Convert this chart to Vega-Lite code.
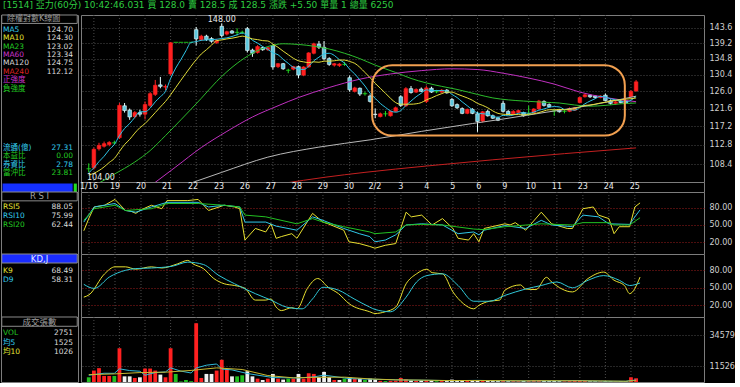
{
"$schema": "https://vega.github.io/schema/vega-lite/v6.json",
"background": "#000000",
"padding": 0,
"title": {"text": "[1514] 亞力(60分)   10:42:46.031 買 128.0 賣 128.5 成 128.5 漲跌 +5.50 單量 1 總量 6250", "anchor": "start", "frame": "group", "color": "#2ecc40", "fontSize": 9, "fontWeight": "normal", "font": "DejaVu Sans, Noto Sans CJK TC", "offset": 4.5, "dx": 2},
"spacing": 0,
"resolve": {"scale": {"color": "independent", "fill": "independent", "stroke": "independent"}},
"config": {
  "view": {"stroke": "#7c7c7c", "strokeWidth": 1, "fill": "#000000"},
  "concat": {"spacing": 0},
  "axis": {"labelFont": "DejaVu Sans", "labelFontSize": 8, "labelColor": "#d8d8d8", "ticks": false, "domain": false, "gridDash": [1, 2], "gridColor": "#555555", "gridOpacity": 1},
  "text": {"font": "DejaVu Sans, Noto Sans CJK TC", "fontSize": 8}
},
"datasets": {
  "days": [{"i":0,"d":"1/16"},{"i":5,"d":"19"},{"i":10,"d":"20"},{"i":15,"d":"21"},{"i":20,"d":"22"},{"i":25,"d":"23"},{"i":30,"d":"26"},{"i":35,"d":"27"},{"i":40,"d":"28"},{"i":45,"d":"29"},{"i":50,"d":"30"},{"i":55,"d":"2/2"},{"i":60,"d":"3"},{"i":65,"d":"4"},{"i":70,"d":"5"},{"i":75,"d":"6"},{"i":80,"d":"9"},{"i":85,"d":"10"},{"i":90,"d":"11"},{"i":95,"d":"23"},{"i":100,"d":"24"},{"i":105,"d":"25"}],
  "candles": [
    {"i":-1,"o":107.4,"h":108.6,"l":106.6,"c":107.4,"v":3500,"vd":"f","MA5":106.5,"MA10":106.0},
    {"i":0,"o":107.6,"h":112.2,"l":107.2,"c":111.8,"v":8500,"vd":"u","MA5":107.6,"MA10":106.4},
    {"i":1,"o":111.9,"h":113.3,"l":111.5,"c":112.7,"v":10300,"vd":"u","MA5":109.0,"MA10":107.0},
    {"i":2,"o":112.5,"h":113.6,"l":112.2,"c":113.1,"v":4500,"vd":"u","MA5":110.2,"MA10":107.8},
    {"i":3,"o":112.9,"h":113.7,"l":112.5,"c":113.4,"v":4500,"vd":"u","MA5":111.7,"MA10":108.8},
    {"i":4,"o":113.3,"h":113.8,"l":112.9,"c":113.3,"v":4500,"vd":"f","MA5":112.9,"MA10":109.7},
    {"i":5,"o":114.5,"h":123.0,"l":114.2,"c":122.4,"v":25100,"vd":"u","MA5":115.0,"MA10":111.3},
    {"i":6,"o":122.3,"h":123.0,"l":120.6,"c":121.1,"v":4200,"vd":"d","MA5":116.7,"MA10":112.9},
    {"i":7,"o":121.2,"h":121.6,"l":118.8,"c":119.5,"v":4200,"vd":"d","MA5":117.9,"MA10":114.1},
    {"i":8,"o":119.6,"h":121.0,"l":119.2,"c":120.6,"v":3000,"vd":"u","MA5":119.4,"MA10":115.6},
    {"i":9,"o":120.6,"h":121.3,"l":119.6,"c":120.2,"v":3500,"vd":"d","MA5":120.8,"MA10":116.9},
    {"i":10,"o":120.2,"h":123.4,"l":118.9,"c":122.6,"v":10000,"vd":"u","MA5":120.8,"MA10":117.9},
    {"i":11,"o":122.4,"h":125.8,"l":122.0,"c":125.4,"v":10000,"vd":"u","MA5":121.7,"MA10":119.2},
    {"i":12,"o":125.2,"h":129.0,"l":124.8,"c":127.6,"v":8500,"vd":"u","MA5":123.3,"MA10":120.6},
    {"i":13,"o":127.7,"h":129.8,"l":126.8,"c":127.3,"v":5500,"vd":"d","MA5":124.6,"MA10":122.0},
    {"i":14,"o":127.1,"h":127.8,"l":126.3,"c":127.3,"v":3500,"vd":"u","MA5":126.0,"MA10":123.4},
    {"i":15,"o":130.6,"h":139.4,"l":130.2,"c":139.3,"v":25100,"vd":"u","MA5":129.4,"MA10":125.1},
    {"i":16,"o":139.4,"h":139.4,"l":139.4,"c":139.4,"v":6000,"vd":"f","MA5":132.2,"MA10":127.0},
    {"i":17,"o":139.4,"h":139.4,"l":139.4,"c":139.4,"v":400,"vd":"f","MA5":134.5,"MA10":128.9},
    {"i":18,"o":139.4,"h":139.4,"l":139.4,"c":139.4,"v":1500,"vd":"f","MA5":137.0,"MA10":130.8},
    {"i":19,"o":139.4,"h":139.4,"l":139.4,"c":139.4,"v":600,"vd":"f","MA5":139.4,"MA10":132.7},
    {"i":20,"o":143.1,"h":143.9,"l":138.5,"c":140.4,"v":43700,"vd":"u","MA5":139.6,"MA10":134.5},
    {"i":21,"o":140.2,"h":141.6,"l":139.8,"c":141.2,"v":3000,"vd":"u","MA5":140.0,"MA10":136.1},
    {"i":22,"o":141.2,"h":141.6,"l":139.8,"c":140.2,"v":6000,"vd":"d","MA5":140.1,"MA10":137.3},
    {"i":23,"o":140.5,"h":140.9,"l":139.3,"c":139.7,"v":6000,"vd":"d","MA5":140.2,"MA10":138.6},
    {"i":24,"o":139.3,"h":140.4,"l":139.0,"c":139.9,"v":8500,"vd":"u","MA5":140.3,"MA10":139.9},
    {"i":25,"o":144.1,"h":145.0,"l":140.8,"c":141.4,"v":16500,"vd":"u","MA5":140.5,"MA10":140.1},
    {"i":26,"o":141.8,"h":142.8,"l":141.4,"c":142.5,"v":9500,"vd":"u","MA5":140.7,"MA10":140.4},
    {"i":27,"o":142.7,"h":143.0,"l":141.9,"c":142.1,"v":4200,"vd":"d","MA5":141.1,"MA10":140.6},
    {"i":28,"o":142.3,"h":143.5,"l":141.4,"c":142.3,"v":4200,"vd":"f","MA5":141.6,"MA10":140.9},
    {"i":29,"o":142.3,"h":142.8,"l":141.8,"c":142.3,"v":5000,"vd":"f","MA5":142.1,"MA10":141.2},
    {"i":30,"o":143.4,"h":143.9,"l":136.5,"c":137.1,"v":8000,"vd":"d","MA5":141.3,"MA10":140.9},
    {"i":31,"o":137.2,"h":137.6,"l":135.3,"c":136.3,"v":4200,"vd":"d","MA5":140.0,"MA10":140.4},
    {"i":32,"o":136.5,"h":138.6,"l":136.2,"c":138.2,"v":2500,"vd":"u","MA5":139.2,"MA10":140.2},
    {"i":33,"o":137.9,"h":138.2,"l":137.0,"c":137.3,"v":1500,"vd":"d","MA5":138.2,"MA10":139.9},
    {"i":34,"o":137.3,"h":138.1,"l":137.0,"c":137.9,"v":2500,"vd":"u","MA5":137.4,"MA10":139.8},
    {"i":35,"o":138.5,"h":138.8,"l":131.8,"c":132.5,"v":6000,"vd":"d","MA5":136.4,"MA10":138.9},
    {"i":36,"o":132.6,"h":133.6,"l":132.2,"c":133.4,"v":2500,"vd":"u","MA5":135.9,"MA10":138.0},
    {"i":37,"o":133.4,"h":133.6,"l":131.7,"c":132.0,"v":1800,"vd":"d","MA5":134.6,"MA10":136.9},
    {"i":38,"o":131.6,"h":132.0,"l":130.8,"c":131.6,"v":2500,"vd":"f","MA5":133.5,"MA10":135.9},
    {"i":39,"o":131.9,"h":132.8,"l":131.6,"c":132.6,"v":2500,"vd":"u","MA5":132.4,"MA10":134.9},
    {"i":40,"o":132.6,"h":132.9,"l":129.5,"c":130.3,"v":6000,"vd":"d","MA5":132.0,"MA10":134.2},
    {"i":41,"o":130.3,"h":132.7,"l":130.0,"c":132.5,"v":2500,"vd":"u","MA5":131.8,"MA10":133.9},
    {"i":42,"o":132.5,"h":136.6,"l":132.3,"c":136.4,"v":6500,"vd":"u","MA5":132.7,"MA10":133.7},
    {"i":43,"o":136.3,"h":139.3,"l":136.0,"c":139.0,"v":6000,"vd":"u","MA5":134.2,"MA10":133.9},
    {"i":44,"o":138.9,"h":139.8,"l":137.5,"c":138.0,"v":3500,"vd":"d","MA5":135.2,"MA10":133.8},
    {"i":45,"o":138.0,"h":139.8,"l":134.4,"c":134.8,"v":7500,"vd":"d","MA5":136.1,"MA10":134.1},
    {"i":46,"o":134.8,"h":135.2,"l":132.8,"c":133.2,"v":3500,"vd":"d","MA5":136.3,"MA10":134.1},
    {"i":47,"o":133.0,"h":133.6,"l":132.6,"c":133.4,"v":1500,"vd":"u","MA5":135.7,"MA10":134.2},
    {"i":48,"o":132.9,"h":133.6,"l":132.5,"c":133.3,"v":1500,"vd":"d","MA5":134.5,"MA10":134.4},
    {"i":49,"o":133.2,"h":133.9,"l":132.8,"c":133.2,"v":2500,"vd":"f","MA5":133.6,"MA10":134.4},
    {"i":50,"o":129.6,"h":130.2,"l":125.9,"c":126.4,"v":3500,"vd":"d","MA5":131.9,"MA10":134.0},
    {"i":51,"o":126.0,"h":127.2,"l":125.7,"c":126.9,"v":2500,"vd":"u","MA5":130.6,"MA10":133.5},
    {"i":52,"o":126.8,"h":127.0,"l":124.8,"c":125.3,"v":2500,"vd":"d","MA5":129.0,"MA10":132.4},
    {"i":53,"o":125.4,"h":125.9,"l":124.9,"c":125.4,"v":1500,"vd":"f","MA5":127.4,"MA10":131.0},
    {"i":54,"o":124.8,"h":125.2,"l":123.1,"c":123.4,"v":2500,"vd":"d","MA5":125.5,"MA10":129.6},
    {"i":55,"o":120.2,"h":121.6,"l":119.2,"c":120.1,"v":2000,"vd":"d","MA5":124.2,"MA10":128.1},
    {"i":56,"o":119.6,"h":120.6,"l":119.4,"c":120.3,"v":900,"vd":"u","MA5":122.9,"MA10":126.8},
    {"i":57,"o":120.3,"h":121.0,"l":119.6,"c":120.3,"v":700,"vd":"f","MA5":121.9,"MA10":125.5},
    {"i":58,"o":119.8,"h":121.1,"l":119.6,"c":120.9,"v":900,"vd":"u","MA5":121.0,"MA10":124.2},
    {"i":59,"o":120.9,"h":122.1,"l":120.7,"c":121.8,"v":1000,"vd":"u","MA5":120.7,"MA10":123.1},
    {"i":60,"o":124.6,"h":125.0,"l":122.0,"c":122.4,"v":3000,"vd":"u","MA5":121.1,"MA10":122.7},
    {"i":61,"o":122.3,"h":127.1,"l":122.0,"c":126.7,"v":2000,"vd":"u","MA5":122.4,"MA10":122.7},
    {"i":62,"o":126.7,"h":127.4,"l":125.4,"c":125.7,"v":1200,"vd":"d","MA5":123.5,"MA10":122.7},
    {"i":63,"o":125.8,"h":126.8,"l":125.6,"c":126.5,"v":800,"vd":"u","MA5":124.6,"MA10":122.8},
    {"i":64,"o":126.6,"h":127.0,"l":125.8,"c":126.0,"v":1200,"vd":"d","MA5":125.5,"MA10":123.1},
    {"i":65,"o":123.4,"h":127.5,"l":123.0,"c":126.9,"v":1500,"vd":"u","MA5":126.4,"MA10":123.8},
    {"i":66,"o":126.8,"h":127.2,"l":125.6,"c":125.8,"v":900,"vd":"d","MA5":126.2,"MA10":124.3},
    {"i":67,"o":125.9,"h":126.4,"l":125.5,"c":125.9,"v":600,"vd":"f","MA5":126.2,"MA10":124.9},
    {"i":68,"o":125.8,"h":126.6,"l":125.6,"c":126.3,"v":700,"vd":"u","MA5":126.2,"MA10":125.4},
    {"i":69,"o":126.3,"h":126.6,"l":125.4,"c":125.6,"v":700,"vd":"d","MA5":126.1,"MA10":125.8},
    {"i":70,"o":123.9,"h":124.3,"l":122.0,"c":122.3,"v":1800,"vd":"d","MA5":125.2,"MA10":125.8},
    {"i":71,"o":122.6,"h":122.9,"l":121.5,"c":121.8,"v":900,"vd":"d","MA5":124.4,"MA10":125.3},
    {"i":72,"o":121.6,"h":121.9,"l":120.2,"c":120.4,"v":900,"vd":"d","MA5":123.3,"MA10":124.8},
    {"i":73,"o":120.4,"h":121.6,"l":120.2,"c":121.4,"v":800,"vd":"u","MA5":122.3,"MA10":124.3},
    {"i":74,"o":121.4,"h":121.7,"l":120.2,"c":120.4,"v":1200,"vd":"d","MA5":121.3,"MA10":123.7},
    {"i":75,"o":120.3,"h":120.8,"l":115.9,"c":118.4,"v":1500,"vd":"d","MA5":120.5,"MA10":122.9},
    {"i":76,"o":118.5,"h":121.0,"l":118.2,"c":120.8,"v":1000,"vd":"u","MA5":120.3,"MA10":122.4},
    {"i":77,"o":120.9,"h":121.3,"l":119.6,"c":119.8,"v":800,"vd":"d","MA5":120.2,"MA10":121.8},
    {"i":78,"o":119.8,"h":120.1,"l":119.0,"c":119.2,"v":700,"vd":"d","MA5":119.7,"MA10":121.0},
    {"i":79,"o":119.3,"h":119.6,"l":118.5,"c":118.7,"v":700,"vd":"d","MA5":119.4,"MA10":120.4},
    {"i":80,"o":122.9,"h":123.6,"l":120.6,"c":120.9,"v":1200,"vd":"u","MA5":119.9,"MA10":120.2},
    {"i":81,"o":120.9,"h":121.2,"l":120.0,"c":120.2,"v":600,"vd":"d","MA5":119.8,"MA10":120.1},
    {"i":82,"o":120.3,"h":121.2,"l":120.1,"c":120.9,"v":700,"vd":"u","MA5":120.0,"MA10":120.1},
    {"i":83,"o":120.6,"h":121.3,"l":120.4,"c":121.1,"v":700,"vd":"u","MA5":120.4,"MA10":120.1},
    {"i":84,"o":120.6,"h":120.8,"l":119.6,"c":119.8,"v":800,"vd":"d","MA5":120.6,"MA10":120.0},
    {"i":85,"o":120.2,"h":122.3,"l":119.8,"c":120.2,"v":1000,"vd":"u","MA5":120.4,"MA10":120.2},
    {"i":86,"o":120.6,"h":121.7,"l":120.4,"c":121.5,"v":1500,"vd":"u","MA5":120.7,"MA10":120.3},
    {"i":87,"o":121.5,"h":123.8,"l":121.3,"c":123.5,"v":1500,"vd":"u","MA5":121.2,"MA10":120.6},
    {"i":88,"o":123.4,"h":123.7,"l":122.1,"c":122.4,"v":900,"vd":"d","MA5":121.5,"MA10":121.0},
    {"i":89,"o":122.6,"h":122.9,"l":121.9,"c":122.1,"v":700,"vd":"d","MA5":121.9,"MA10":121.3},
    {"i":90,"o":121.0,"h":121.3,"l":119.8,"c":121.0,"v":800,"vd":"d","MA5":122.1,"MA10":121.3},
    {"i":91,"o":121.2,"h":121.5,"l":120.6,"c":120.8,"v":600,"vd":"d","MA5":122.0,"MA10":121.4},
    {"i":92,"o":120.9,"h":121.2,"l":120.4,"c":120.9,"v":500,"vd":"u","MA5":121.4,"MA10":121.3},
    {"i":93,"o":120.9,"h":121.9,"l":120.7,"c":121.6,"v":700,"vd":"u","MA5":121.3,"MA10":121.4},
    {"i":94,"o":121.2,"h":122.0,"l":121.0,"c":121.8,"v":1500,"vd":"u","MA5":121.2,"MA10":121.6},
    {"i":95,"o":123.1,"h":124.6,"l":122.9,"c":124.4,"v":1300,"vd":"u","MA5":121.9,"MA10":122.0},
    {"i":96,"o":124.6,"h":125.4,"l":124.4,"c":125.1,"v":900,"vd":"u","MA5":122.8,"MA10":122.4},
    {"i":97,"o":125.0,"h":125.2,"l":124.3,"c":124.6,"v":500,"vd":"d","MA5":123.5,"MA10":122.5},
    {"i":98,"o":124.8,"h":125.0,"l":124.2,"c":124.4,"v":500,"vd":"d","MA5":124.1,"MA10":122.7},
    {"i":99,"o":124.4,"h":125.0,"l":124.2,"c":124.8,"v":600,"vd":"u","MA5":124.7,"MA10":123.0},
    {"i":100,"o":125.0,"h":125.4,"l":123.4,"c":123.6,"v":600,"vd":"d","MA5":124.5,"MA10":123.2},
    {"i":101,"o":123.6,"h":123.9,"l":122.6,"c":122.9,"v":500,"vd":"d","MA5":124.1,"MA10":123.5},
    {"i":102,"o":122.9,"h":123.6,"l":122.6,"c":123.3,"v":450,"vd":"u","MA5":123.8,"MA10":123.7},
    {"i":103,"o":123.5,"h":123.8,"l":122.9,"c":123.1,"v":450,"vd":"d","MA5":123.5,"MA10":123.8},
    {"i":104,"o":123.5,"h":123.7,"l":122.8,"c":123.0,"v":480,"vd":"d","MA5":123.2,"MA10":124.0},
    {"i":105,"o":124.6,"h":126.3,"l":124.5,"c":126.0,"v":3499,"vd":"u","MA5":123.7,"MA10":124.1},
    {"i":106,"o":126.1,"h":129.0,"l":125.9,"c":128.5,"v":2751,"vd":"u","MA5":124.7,"MA10":124.3}
  ],
  "mas": [
    {"s":"MA23","i":-1,"v":103.4},{"s":"MA23","i":1,"v":104.3},{"s":"MA23","i":4,"v":106.2},{"s":"MA23","i":8,"v":108.9},{"s":"MA23","i":11,"v":111.5},{"s":"MA23","i":14,"v":115.0},{"s":"MA23","i":17,"v":118.8},{"s":"MA23","i":21,"v":124.2},{"s":"MA23","i":24,"v":128.6},{"s":"MA23","i":28,"v":133.5},{"s":"MA23","i":31,"v":136.3},{"s":"MA23","i":34,"v":138.2},{"s":"MA23","i":37,"v":139.0},{"s":"MA23","i":40,"v":138.8},{"s":"MA23","i":43,"v":138.3},{"s":"MA23","i":46,"v":137.5},{"s":"MA23","i":49,"v":136.3},{"s":"MA23","i":52,"v":134.8},{"s":"MA23","i":55,"v":133.0},{"s":"MA23","i":59,"v":131.0},{"s":"MA23","i":62,"v":129.4},{"s":"MA23","i":65,"v":128.2},{"s":"MA23","i":68,"v":127.3},{"s":"MA23","i":71,"v":126.5},{"s":"MA23","i":75,"v":125.2},{"s":"MA23","i":78,"v":124.3},{"s":"MA23","i":81,"v":123.8},{"s":"MA23","i":84,"v":123.5},{"s":"MA23","i":88,"v":123.2},{"s":"MA23","i":91,"v":123.0},{"s":"MA23","i":94,"v":122.5},{"s":"MA23","i":97,"v":122.2},{"s":"MA23","i":100,"v":122.4},{"s":"MA23","i":103,"v":122.8},{"s":"MA23","i":106,"v":123.02},
    {"s":"MA60","i":11,"v":103.6},{"s":"MA60","i":16,"v":107.8},{"s":"MA60","i":21,"v":112.2},{"s":"MA60","i":26,"v":116.0},{"s":"MA60","i":31,"v":119.5},{"s":"MA60","i":36,"v":122.3},{"s":"MA60","i":40,"v":124.4},{"s":"MA60","i":46,"v":127.0},{"s":"MA60","i":52,"v":129.2},{"s":"MA60","i":58,"v":130.6},{"s":"MA60","i":64,"v":131.5},{"s":"MA60","i":70,"v":132.0},{"s":"MA60","i":75,"v":131.8},{"s":"MA60","i":80,"v":130.8},{"s":"MA60","i":85,"v":129.5},{"s":"MA60","i":90,"v":127.9},{"s":"MA60","i":95,"v":125.8},{"s":"MA60","i":100,"v":124.4},{"s":"MA60","i":106,"v":123.34},
    {"s":"MA120","i":18,"v":103.9},{"s":"MA120","i":25,"v":106.6},{"s":"MA120","i":34,"v":110.0},{"s":"MA120","i":44,"v":112.3},{"s":"MA120","i":54,"v":114.0},{"s":"MA120","i":64,"v":116.0},{"s":"MA120","i":74,"v":117.9},{"s":"MA120","i":80,"v":119.0},{"s":"MA120","i":88,"v":120.6},{"s":"MA120","i":96,"v":122.2},{"s":"MA120","i":101,"v":123.4},{"s":"MA120","i":106,"v":124.75},
    {"s":"MA240","i":37,"v":104.2},{"s":"MA240","i":45,"v":105.5},{"s":"MA240","i":53,"v":106.6},{"s":"MA240","i":65,"v":108.0},{"s":"MA240","i":78,"v":109.4},{"s":"MA240","i":92,"v":110.8},{"s":"MA240","i":106,"v":112.12}
  ],
  "rsi": [
    {"s":"RSI5","i":-1,"v":40},{"s":"RSI5","i":0,"v":62},{"s":"RSI5","i":1,"v":81},{"s":"RSI5","i":3,"v":84},{"s":"RSI5","i":5,"v":94},{"s":"RSI5","i":7,"v":75},{"s":"RSI5","i":8,"v":74},{"s":"RSI5","i":9,"v":70},{"s":"RSI5","i":10,"v":76},{"s":"RSI5","i":12,"v":84},{"s":"RSI5","i":14,"v":78},{"s":"RSI5","i":15,"v":92},{"s":"RSI5","i":19,"v":92},{"s":"RSI5","i":21,"v":94},{"s":"RSI5","i":23,"v":75},{"s":"RSI5","i":26,"v":84},{"s":"RSI5","i":28,"v":81},{"s":"RSI5","i":29,"v":78},{"s":"RSI5","i":30,"v":24},{"s":"RSI5","i":32,"v":44},{"s":"RSI5","i":34,"v":38},{"s":"RSI5","i":35,"v":52},{"s":"RSI5","i":36,"v":27},{"s":"RSI5","i":37,"v":30},{"s":"RSI5","i":39,"v":35},{"s":"RSI5","i":40,"v":27},{"s":"RSI5","i":43,"v":70},{"s":"RSI5","i":45,"v":55},{"s":"RSI5","i":46,"v":52},{"s":"RSI5","i":49,"v":41},{"s":"RSI5","i":50,"v":21},{"s":"RSI5","i":52,"v":18},{"s":"RSI5","i":54,"v":13},{"s":"RSI5","i":55,"v":10},{"s":"RSI5","i":57,"v":15},{"s":"RSI5","i":59,"v":18},{"s":"RSI5","i":61,"v":72},{"s":"RSI5","i":62,"v":64},{"s":"RSI5","i":64,"v":67},{"s":"RSI5","i":66,"v":50},{"s":"RSI5","i":68,"v":61},{"s":"RSI5","i":70,"v":44},{"s":"RSI5","i":71,"v":27},{"s":"RSI5","i":73,"v":24},{"s":"RSI5","i":74,"v":35},{"s":"RSI5","i":75,"v":21},{"s":"RSI5","i":76,"v":44},{"s":"RSI5","i":80,"v":52},{"s":"RSI5","i":81,"v":50},{"s":"RSI5","i":82,"v":54},{"s":"RSI5","i":84,"v":41},{"s":"RSI5","i":87,"v":72},{"s":"RSI5","i":89,"v":52},{"s":"RSI5","i":92,"v":44},{"s":"RSI5","i":93,"v":44},{"s":"RSI5","i":95,"v":78},{"s":"RSI5","i":97,"v":81},{"s":"RSI5","i":98,"v":67},{"s":"RSI5","i":100,"v":61},{"s":"RSI5","i":101,"v":35},{"s":"RSI5","i":102,"v":47},{"s":"RSI5","i":104,"v":47},{"s":"RSI5","i":105,"v":81},{"s":"RSI5","i":106,"v":88.05},
    {"s":"RSI10","i":-1,"v":55},{"s":"RSI10","i":1,"v":81},{"s":"RSI10","i":5,"v":87},{"s":"RSI10","i":7,"v":75},{"s":"RSI10","i":9,"v":72},{"s":"RSI10","i":12,"v":81},{"s":"RSI10","i":15,"v":89},{"s":"RSI10","i":21,"v":89},{"s":"RSI10","i":23,"v":81},{"s":"RSI10","i":26,"v":84},{"s":"RSI10","i":29,"v":81},{"s":"RSI10","i":30,"v":55},{"s":"RSI10","i":34,"v":55},{"s":"RSI10","i":36,"v":48},{"s":"RSI10","i":40,"v":41},{"s":"RSI10","i":43,"v":64},{"s":"RSI10","i":45,"v":58},{"s":"RSI10","i":49,"v":44},{"s":"RSI10","i":52,"v":35},{"s":"RSI10","i":54,"v":30},{"s":"RSI10","i":55,"v":21},{"s":"RSI10","i":57,"v":24},{"s":"RSI10","i":59,"v":33},{"s":"RSI10","i":61,"v":50},{"s":"RSI10","i":64,"v":52},{"s":"RSI10","i":68,"v":50},{"s":"RSI10","i":71,"v":35},{"s":"RSI10","i":74,"v":38},{"s":"RSI10","i":75,"v":33},{"s":"RSI10","i":76,"v":41},{"s":"RSI10","i":80,"v":49},{"s":"RSI10","i":84,"v":44},{"s":"RSI10","i":87,"v":58},{"s":"RSI10","i":89,"v":50},{"s":"RSI10","i":93,"v":47},{"s":"RSI10","i":95,"v":67},{"s":"RSI10","i":98,"v":64},{"s":"RSI10","i":100,"v":52},{"s":"RSI10","i":104,"v":51},{"s":"RSI10","i":105,"v":64},{"s":"RSI10","i":106,"v":75.99},
    {"s":"RSI20","i":-1,"v":58},{"s":"RSI20","i":1,"v":78},{"s":"RSI20","i":5,"v":84},{"s":"RSI20","i":7,"v":75},{"s":"RSI20","i":12,"v":78},{"s":"RSI20","i":15,"v":87},{"s":"RSI20","i":21,"v":87},{"s":"RSI20","i":26,"v":84},{"s":"RSI20","i":29,"v":81},{"s":"RSI20","i":30,"v":67},{"s":"RSI20","i":34,"v":64},{"s":"RSI20","i":40,"v":52},{"s":"RSI20","i":43,"v":61},{"s":"RSI20","i":45,"v":55},{"s":"RSI20","i":49,"v":47},{"s":"RSI20","i":54,"v":38},{"s":"RSI20","i":55,"v":35},{"s":"RSI20","i":59,"v":38},{"s":"RSI20","i":61,"v":50},{"s":"RSI20","i":64,"v":51},{"s":"RSI20","i":68,"v":50},{"s":"RSI20","i":74,"v":43},{"s":"RSI20","i":76,"v":42},{"s":"RSI20","i":80,"v":47},{"s":"RSI20","i":87,"v":52},{"s":"RSI20","i":93,"v":50},{"s":"RSI20","i":95,"v":54},{"s":"RSI20","i":100,"v":54},{"s":"RSI20","i":101,"v":50},{"s":"RSI20","i":104,"v":50},{"s":"RSI20","i":106,"v":62.44}
  ],
  "kd": [
    {"s":"K9","i":-1,"v":34},{"s":"K9","i":0,"v":38},{"s":"K9","i":3,"v":74},{"s":"K9","i":5,"v":86},{"s":"K9","i":7,"v":86},{"s":"K9","i":9,"v":82},{"s":"K9","i":12,"v":86},{"s":"K9","i":14,"v":84},{"s":"K9","i":17,"v":91},{"s":"K9","i":19,"v":97},{"s":"K9","i":20,"v":91},{"s":"K9","i":22,"v":83},{"s":"K9","i":24,"v":66},{"s":"K9","i":26,"v":57},{"s":"K9","i":28,"v":54},{"s":"K9","i":30,"v":49},{"s":"K9","i":32,"v":29},{"s":"K9","i":34,"v":29},{"s":"K9","i":35,"v":31},{"s":"K9","i":36,"v":17},{"s":"K9","i":37,"v":11},{"s":"K9","i":39,"v":16},{"s":"K9","i":40,"v":14},{"s":"K9","i":42,"v":49},{"s":"K9","i":44,"v":66},{"s":"K9","i":46,"v":51},{"s":"K9","i":48,"v":40},{"s":"K9","i":50,"v":23},{"s":"K9","i":54,"v":9},{"s":"K9","i":55,"v":6},{"s":"K9","i":57,"v":9},{"s":"K9","i":59,"v":17},{"s":"K9","i":61,"v":57},{"s":"K9","i":63,"v":74},{"s":"K9","i":65,"v":82},{"s":"K9","i":66,"v":76},{"s":"K9","i":68,"v":74},{"s":"K9","i":70,"v":43},{"s":"K9","i":72,"v":23},{"s":"K9","i":74,"v":14},{"s":"K9","i":75,"v":20},{"s":"K9","i":77,"v":27},{"s":"K9","i":79,"v":29},{"s":"K9","i":80,"v":46},{"s":"K9","i":83,"v":55},{"s":"K9","i":84,"v":48},{"s":"K9","i":86,"v":47},{"s":"K9","i":88,"v":68},{"s":"K9","i":89,"v":60},{"s":"K9","i":93,"v":43},{"s":"K9","i":96,"v":66},{"s":"K9","i":99,"v":77},{"s":"K9","i":101,"v":63},{"s":"K9","i":103,"v":54},{"s":"K9","i":104,"v":40},{"s":"K9","i":106,"v":68.49},
    {"s":"D9","i":-1,"v":56},{"s":"D9","i":1,"v":49},{"s":"D9","i":4,"v":69},{"s":"D9","i":7,"v":80},{"s":"D9","i":9,"v":83},{"s":"D9","i":12,"v":84},{"s":"D9","i":16,"v":87},{"s":"D9","i":19,"v":94},{"s":"D9","i":22,"v":90},{"s":"D9","i":25,"v":71},{"s":"D9","i":28,"v":57},{"s":"D9","i":32,"v":40},{"s":"D9","i":35,"v":29},{"s":"D9","i":38,"v":17},{"s":"D9","i":41,"v":14},{"s":"D9","i":43,"v":31},{"s":"D9","i":45,"v":51},{"s":"D9","i":48,"v":46},{"s":"D9","i":51,"v":31},{"s":"D9","i":54,"v":17},{"s":"D9","i":55,"v":13},{"s":"D9","i":58,"v":9},{"s":"D9","i":61,"v":34},{"s":"D9","i":63,"v":60},{"s":"D9","i":65,"v":71},{"s":"D9","i":68,"v":74},{"s":"D9","i":71,"v":54},{"s":"D9","i":74,"v":27},{"s":"D9","i":77,"v":27},{"s":"D9","i":80,"v":37},{"s":"D9","i":84,"v":48},{"s":"D9","i":87,"v":54},{"s":"D9","i":90,"v":60},{"s":"D9","i":93,"v":50},{"s":"D9","i":96,"v":63},{"s":"D9","i":99,"v":71},{"s":"D9","i":102,"v":63},{"s":"D9","i":104,"v":54},{"s":"D9","i":106,"v":58.31}
  ],
  "vavg": [
    {"s":"V5","i":-1,"v":5000},{"s":"V5","i":2,"v":6500},{"s":"V5","i":4,"v":6460},{"s":"V5","i":5,"v":9780},{"s":"V5","i":7,"v":8500},{"s":"V5","i":9,"v":8000},{"s":"V5","i":10,"v":5000},{"s":"V5","i":12,"v":7000},{"s":"V5","i":14,"v":7500},{"s":"V5","i":15,"v":10500},{"s":"V5","i":17,"v":8100},{"s":"V5","i":19,"v":6700},{"s":"V5","i":20,"v":10400},{"s":"V5","i":22,"v":12500},{"s":"V5","i":24,"v":13400},{"s":"V5","i":25,"v":9600},{"s":"V5","i":27,"v":9000},{"s":"V5","i":30,"v":6300},{"s":"V5","i":35,"v":3300},{"s":"V5","i":40,"v":3000},{"s":"V5","i":43,"v":3800},{"s":"V5","i":45,"v":5100},{"s":"V5","i":50,"v":2500},{"s":"V5","i":55,"v":2000},{"s":"V5","i":60,"v":1500},{"s":"V5","i":65,"v":1300},{"s":"V5","i":70,"v":1000},{"s":"V5","i":75,"v":1200},{"s":"V5","i":80,"v":900},{"s":"V5","i":85,"v":800},{"s":"V5","i":90,"v":900},{"s":"V5","i":95,"v":1000},{"s":"V5","i":100,"v":600},{"s":"V5","i":104,"v":500},{"s":"V5","i":105,"v":1080},{"s":"V5","i":106,"v":1525},
    {"s":"V10","i":-1,"v":5500},{"s":"V10","i":4,"v":6000},{"s":"V10","i":9,"v":7000},{"s":"V10","i":14,"v":7300},{"s":"V10","i":19,"v":8600},{"s":"V10","i":24,"v":10500},{"s":"V10","i":29,"v":9300},{"s":"V10","i":34,"v":4800},{"s":"V10","i":39,"v":3100},{"s":"V10","i":44,"v":3500},{"s":"V10","i":49,"v":3600},{"s":"V10","i":54,"v":2300},{"s":"V10","i":59,"v":1600},{"s":"V10","i":64,"v":1400},{"s":"V10","i":69,"v":1100},{"s":"V10","i":74,"v":1100},{"s":"V10","i":79,"v":1000},{"s":"V10","i":84,"v":850},{"s":"V10","i":89,"v":950},{"s":"V10","i":94,"v":900},{"s":"V10","i":99,"v":800},{"s":"V10","i":104,"v":560},{"s":"V10","i":105,"v":880},{"s":"V10","i":106,"v":1026}
  ],
  "annot": [{"i0": 54.4, "i1": 103.8, "pt": 133.0, "pb": 115.0}],
  "hl": [{"i": 25, "p": 146.0, "t": "148.00"}],
  "lo": [{"i": -1.35, "p": 105.4, "t": "104.00"}],
  "legMain": [
    {"k":"h","lab":"除權對數K線圖","val":""},
    {"k":"MA5","lab":"MA5","val":"124.70"},
    {"k":"MA10","lab":"MA10","val":"124.30"},
    {"k":"MA23","lab":"MA23","val":"123.02"},
    {"k":"MA60","lab":"MA60","val":"123.34"},
    {"k":"MA120","lab":"MA120","val":"124.75"},
    {"k":"MA240","lab":"MA240","val":"112.12"},
    {"k":"正強度","lab":"正強度","val":""},
    {"k":"負強度","lab":"負強度","val":""},
    {"k":"流通(億)","lab":"流通(億)","val":"27.31"},
    {"k":"本益比","lab":"本益比","val":"0.00"},
    {"k":"券資比","lab":"券資比","val":"2.78"},
    {"k":"當沖比","lab":"當沖比","val":"23.81"},
    {"k":"bar","lab":"","val":""}
  ],
  "legRsi": [
    {"k":"h","lab":"R S I","val":""},
    {"k":"RSI5","lab":"RSI5","val":"88.05"},
    {"k":"RSI10","lab":"RSI10","val":"75.99"},
    {"k":"RSI20","lab":"RSI20","val":"62.44"}
  ],
  "legKd": [
    {"k":"h","lab":"KD,J","val":""},
    {"k":"K9","lab":"K9","val":"68.49"},
    {"k":"D9","lab":"D9","val":"58.31"}
  ],
  "legVol": [
    {"k":"h","lab":"成交張數","val":""},
    {"k":"V","lab":"VOL","val":"2751"},
    {"k":"V5","lab":"均5","val":"1525"},
    {"k":"V10","lab":"均10","val":"1026"}
  ]
},
"hconcat": [
  {
    "spacing": 0,
    "bounds": "flush",
    "resolve": {"scale": {"color": "independent", "fill": "independent", "stroke": "independent"}},
    "vconcat": [
      {
        "width": 77, "height": 177,
        "data": {"name": "legMain"},
        "resolve": {"scale": {"color": "independent", "fill": "independent"}},
        "layer": [
          {
            "transform": [{"filter": "datum.k == 'bar'"}],
            "mark": {"type": "bar", "color": "#1430ff"},
            "encoding": {
              "x": {"datum": 0.02, "type": "quantitative", "scale": {"domain": [0, 1], "nice": false}, "axis": null},
              "x2": {"datum": 0.93},
              "y": {"field": "k", "type": "nominal", "scale": {"type": "band", "domain": ["h","MA5","MA10","MA23","MA60","MA120","MA240","正強度","負強度","g1","g2","g3","g4","g5","g6","流通(億)","本益比","券資比","當沖比","g7","bar"], "paddingInner": 0, "paddingOuter": 0}, "axis": null}
            }
          },
          {
            "transform": [{"filter": "datum.k == 'bar'"}],
            "mark": {"type": "bar", "color": "#22dd22"},
            "encoding": {"x": {"datum": 0.945, "type": "quantitative"}, "x2": {"datum": 0.985}, "y": {"field": "k", "type": "nominal"}}
          },
          {
            "transform": [{"filter": "datum.k == 'h'"}],
            "mark": {"type": "bar", "fill": "#000000", "stroke": "#8a8a8a", "strokeWidth": 1},
            "encoding": {"x": {"datum": 0.01, "type": "quantitative"}, "x2": {"datum": 0.99}, "y": {"field": "k", "type": "nominal"}}
          },
          {
            "transform": [{"filter": "datum.k == 'h'"}],
            "mark": {"type": "text", "align": "left", "baseline": "middle", "dx": 6, "color": "#9a9a9a", "fontSize": 8},
            "encoding": {"x": {"datum": 0, "type": "quantitative"}, "y": {"field": "k", "type": "nominal"}, "text": {"field": "lab"}}
          },
          {
            "transform": [{"filter": "datum.k != 'h' && datum.k != 'bar'"}],
            "mark": {"type": "text", "align": "left", "baseline": "middle", "dx": 2, "dy": 2, "fontSize": 7.5},
            "encoding": {
              "x": {"datum": 0, "type": "quantitative"},
              "y": {"field": "k", "type": "nominal"},
              "text": {"field": "lab"},
              "color": {"field": "k", "type": "nominal", "legend": null, "scale": {"domain": ["MA5","MA10","MA23","MA60","MA120","MA240","正強度","負強度","流通(億)","本益比","券資比","當沖比"], "range": ["#33ccee","#e6e633","#22cc22","#cc33cc","#d8d8d8","#dd2222","#cc33cc","#22cc22","#33ccee","#22cc22","#33ccee","#22cc22"]}}
            }
          },
          {
            "transform": [{"filter": "datum.k != 'h' && datum.k != 'bar'"}],
            "mark": {"type": "text", "align": "right", "baseline": "middle", "dx": -5, "dy": 2, "fontSize": 7.5},
            "encoding": {
              "x": {"datum": 1, "type": "quantitative"},
              "y": {"field": "k", "type": "nominal"},
              "text": {"field": "val"},
              "fill": {"field": "k", "type": "nominal", "legend": null, "scale": {"domain": ["MA5","MA10","MA23","MA60","MA120","MA240","正強度","負強度","流通(億)","本益比","券資比","當沖比"], "range": ["#dcdcdc","#dcdcdc","#dcdcdc","#dcdcdc","#dcdcdc","#dcdcdc","#dcdcdc","#dcdcdc","#33ccee","#22cc22","#33ccee","#22cc22"]}}
            }
          }
        ]
      },
      {
        "width": 77, "height": 62,
        "data": {"name": "legRsi"},
        "layer": [
          {
            "transform": [{"filter": "datum.k == 'h'"}],
            "mark": {"type": "bar", "fill": "#000000", "stroke": "#8a8a8a", "strokeWidth": 1},
            "encoding": {
              "x": {"datum": 0.01, "type": "quantitative", "scale": {"domain": [0, 1], "nice": false}, "axis": null},
              "x2": {"datum": 0.99},
              "y": {"field": "k", "type": "nominal", "scale": {"type": "band", "domain": ["h","RSI5","RSI10","RSI20","g1","g2","g3"], "paddingInner": 0, "paddingOuter": 0}, "axis": null}
            }
          },
          {
            "transform": [{"filter": "datum.k == 'h'"}],
            "mark": {"type": "text", "align": "center", "baseline": "middle", "color": "#a0a0a0", "fontSize": 8.5},
            "encoding": {"x": {"datum": 0.5, "type": "quantitative"}, "y": {"field": "k", "type": "nominal"}, "text": {"field": "lab"}}
          },
          {
            "transform": [{"filter": "datum.k != 'h'"}],
            "mark": {"type": "text", "align": "left", "baseline": "middle", "dx": 2, "dy": 2, "fontSize": 7.5},
            "encoding": {
              "x": {"datum": 0, "type": "quantitative"},
              "y": {"field": "k", "type": "nominal"},
              "text": {"field": "lab"},
              "color": {"field": "k", "type": "nominal", "legend": null, "scale": {"domain": ["RSI5","RSI10","RSI20"], "range": ["#e6e633","#33ccee","#22cc22"]}}
            }
          },
          {
            "transform": [{"filter": "datum.k != 'h'"}],
            "mark": {"type": "text", "align": "right", "baseline": "middle", "dx": -5, "dy": 2, "fontSize": 7.5, "color": "#dcdcdc"},
            "encoding": {"x": {"datum": 1, "type": "quantitative"}, "y": {"field": "k", "type": "nominal"}, "text": {"field": "val"}}
          }
        ]
      },
      {
        "width": 77, "height": 63,
        "data": {"name": "legKd"},
        "layer": [
          {
            "transform": [{"filter": "datum.k == 'h'"}],
            "mark": {"type": "bar", "fill": "#1a2cff", "stroke": "#8a8a8a", "strokeWidth": 1},
            "encoding": {
              "x": {"datum": 0.01, "type": "quantitative", "scale": {"domain": [0, 1], "nice": false}, "axis": null},
              "x2": {"datum": 0.99},
              "y": {"field": "k", "type": "nominal", "scale": {"type": "band", "domain": ["h","K9","D9","g1","g2","g3","g4"], "paddingInner": 0, "paddingOuter": 0}, "axis": null}
            }
          },
          {
            "transform": [{"filter": "datum.k == 'h'"}],
            "mark": {"type": "text", "align": "center", "baseline": "middle", "color": "#e0e8ff", "fontSize": 8.5},
            "encoding": {"x": {"datum": 0.5, "type": "quantitative"}, "y": {"field": "k", "type": "nominal"}, "text": {"field": "lab"}}
          },
          {
            "transform": [{"filter": "datum.k != 'h'"}],
            "mark": {"type": "text", "align": "left", "baseline": "middle", "dx": 2, "dy": 3.5, "fontSize": 7.5},
            "encoding": {
              "x": {"datum": 0, "type": "quantitative"},
              "y": {"field": "k", "type": "nominal"},
              "text": {"field": "lab"},
              "color": {"field": "k", "type": "nominal", "legend": null, "scale": {"domain": ["K9","D9"], "range": ["#e6e633","#33ccee"]}}
            }
          },
          {
            "transform": [{"filter": "datum.k != 'h'"}],
            "mark": {"type": "text", "align": "right", "baseline": "middle", "dx": -5, "dy": 3.5, "fontSize": 7.5, "color": "#dcdcdc"},
            "encoding": {"x": {"datum": 1, "type": "quantitative"}, "y": {"field": "k", "type": "nominal"}, "text": {"field": "val"}}
          }
        ]
      },
      {
        "width": 77, "height": 65,
        "data": {"name": "legVol"},
        "layer": [
          {
            "transform": [{"filter": "datum.k == 'h'"}],
            "mark": {"type": "bar", "fill": "#000000", "stroke": "#8a8a8a", "strokeWidth": 1},
            "encoding": {
              "x": {"datum": 0.01, "type": "quantitative", "scale": {"domain": [0, 1], "nice": false}, "axis": null},
              "x2": {"datum": 0.99},
              "y": {"field": "k", "type": "nominal", "scale": {"type": "band", "domain": ["h","V","V5","V10","g1","g2","g3"], "paddingInner": 0, "paddingOuter": 0}, "axis": null}
            }
          },
          {
            "transform": [{"filter": "datum.k == 'h'"}],
            "mark": {"type": "text", "align": "center", "baseline": "middle", "color": "#a0a0a0", "fontSize": 8.5},
            "encoding": {"x": {"datum": 0.5, "type": "quantitative"}, "y": {"field": "k", "type": "nominal"}, "text": {"field": "lab"}}
          },
          {
            "transform": [{"filter": "datum.k != 'h'"}],
            "mark": {"type": "text", "align": "left", "baseline": "middle", "dx": 2, "dy": 2.5, "fontSize": 7.5},
            "encoding": {
              "x": {"datum": 0, "type": "quantitative"},
              "y": {"field": "k", "type": "nominal"},
              "text": {"field": "lab"},
              "color": {"field": "k", "type": "nominal", "legend": null, "scale": {"domain": ["V","V5","V10"], "range": ["#22cc22","#33ccee","#e6e633"]}}
            }
          },
          {
            "transform": [{"filter": "datum.k != 'h'"}],
            "mark": {"type": "text", "align": "right", "baseline": "middle", "dx": -5, "dy": 2.5, "fontSize": 7.5, "color": "#dcdcdc"},
            "encoding": {"x": {"datum": 1, "type": "quantitative"}, "y": {"field": "k", "type": "nominal"}, "text": {"field": "val"}}
          }
        ]
      }
    ]
  },
  {
    "spacing": 0,
    "bounds": "flush",
    "resolve": {"scale": {"color": "independent", "fill": "independent", "stroke": "independent"}},
    "vconcat": [
      {
        "width": 623, "height": 167,
        "layer": [
          {
            "data": {"name": "days"},
            "mark": {"type": "rule", "color": "#4c4c4c", "strokeDash": [1, 2], "strokeWidth": 1},
            "encoding": {"x": {"field": "i", "type": "quantitative", "title": null, "axis": null, "scale": {"domain": [-1.54, 118.3], "nice": false, "zero": false}}}
          },
          {
            "data": {"name": "candles"},
            "mark": {"type": "rule", "strokeWidth": 1},
            "encoding": {
              "x": {"field": "i", "type": "quantitative", "title": null, "axis": null},
              "y": {"field": "l", "type": "quantitative", "title": null, "scale": {"type": "log", "domain": [104.5, 147.5], "nice": false, "zero": false},
                    "axis": {"orient": "right", "values": [108.4, 112.8, 117.2, 121.6, 126.0, 130.4, 134.8, 139.2, 143.6], "format": ".1f", "grid": true, "gridColor": "#4c4c4c", "gridDash": [1, 2], "labelColor": "#d0d0d0", "labelFontSize": 8, "labelPadding": 5}},
              "y2": {"field": "h"},
              "color": {"condition": [{"test": "datum.c > datum.o", "value": "#ff2020"}, {"test": "datum.c < datum.o", "value": "#e6ffff"}], "value": "#22dd22"}
            }
          },
          {
            "data": {"name": "candles"},
            "transform": [{"filter": "datum.c != datum.o"}],
            "mark": {"type": "bar", "size": 3.6, "orient": "vertical", "strokeWidth": 0.6},
            "encoding": {
              "x": {"field": "i", "type": "quantitative", "title": null, "axis": null},
              "y": {"field": "o", "type": "quantitative", "title": null, "scale": {"type": "log", "domain": [104.5, 147.5], "nice": false, "zero": false}},
              "y2": {"field": "c"},
              "fill": {"condition": {"test": "datum.c > datum.o", "value": "#ff2020"}, "value": "#5ec8de"},
              "stroke": {"condition": {"test": "datum.c > datum.o", "value": "#ff2020"}, "value": "#f4ffff"}
            }
          },
          {
            "data": {"name": "candles"},
            "transform": [{"filter": "datum.c == datum.o"}],
            "mark": {"type": "tick", "orient": "horizontal", "size": 4.5, "thickness": 1.2, "color": "#22dd22"},
            "encoding": {
              "x": {"field": "i", "type": "quantitative", "title": null, "axis": null},
              "y": {"field": "c", "type": "quantitative", "title": null, "scale": {"type": "log", "domain": [104.5, 147.5], "nice": false, "zero": false}}
            }
          },
          {
            "data": {"name": "mas"},
            "mark": {"type": "line", "strokeWidth": 1, "interpolate": "monotone", "clip": true},
            "encoding": {
              "x": {"field": "i", "type": "quantitative", "title": null, "axis": null},
              "y": {"field": "v", "type": "quantitative", "title": null, "scale": {"type": "log", "domain": [104.5, 147.5], "nice": false, "zero": false}},
              "color": {"field": "s", "type": "nominal", "legend": null, "scale": {"domain": ["MA5","MA10","MA23","MA60","MA120","MA240"], "range": ["#2ec4e6","#e2dc3a","#2cbc2c","#c030c0","#b8b8b8","#c42020"]}}
            }
          },
          {
            "data": {"name": "candles"},
            "transform": [{"fold": ["MA5", "MA10"], "as": ["s", "v"]}],
            "mark": {"type": "line", "strokeWidth": 1, "interpolate": "monotone", "clip": true},
            "encoding": {
              "x": {"field": "i", "type": "quantitative", "title": null, "axis": null},
              "y": {"field": "v", "type": "quantitative", "title": null, "scale": {"type": "log", "domain": [104.5, 147.5], "nice": false, "zero": false}},
              "color": {"field": "s", "type": "nominal", "legend": null}
            }
          },
          {
            "data": {"name": "annot"},
            "mark": {"type": "rect", "filled": false, "color": "#f2a050", "strokeWidth": 2, "cornerRadius": 20},
            "encoding": {
              "x": {"field": "i0", "type": "quantitative", "title": null, "axis": null},
              "x2": {"field": "i1"},
              "y": {"field": "pt", "type": "quantitative", "title": null, "scale": {"type": "log", "domain": [104.5, 147.5], "nice": false, "zero": false}},
              "y2": {"field": "pb"}
            }
          },
          {
            "data": {"name": "hl"},
            "mark": {"type": "text", "color": "#e8e8e8", "fontSize": 8, "baseline": "middle", "align": "center"},
            "encoding": {
              "x": {"field": "i", "type": "quantitative", "title": null, "axis": null},
              "y": {"field": "p", "type": "quantitative", "title": null, "scale": {"type": "log", "domain": [104.5, 147.5], "nice": false, "zero": false}},
              "text": {"field": "t"}
            }
          },
          {
            "data": {"name": "lo"},
            "mark": {"type": "text", "color": "#e8e8e8", "fontSize": 8, "baseline": "middle", "align": "left"},
            "encoding": {
              "x": {"field": "i", "type": "quantitative", "title": null, "axis": null},
              "y": {"field": "p", "type": "quantitative", "title": null, "scale": {"type": "log", "domain": [104.5, 147.5], "nice": false, "zero": false}},
              "text": {"field": "t"}
            }
          }
        ]
      },
      {
        "width": 623, "height": 10,
        "data": {"name": "days"},
        "mark": {"type": "text", "color": "#e8e8e8", "fontSize": 8, "align": "center", "baseline": "middle"},
        "encoding": {
          "x": {"field": "i", "type": "quantitative", "title": null, "axis": null, "scale": {"domain": [-1.54, 118.3], "nice": false, "zero": false}},
          "text": {"field": "d"}
        }
      },
      {
        "width": 623, "height": 62,
        "layer": [
          {
            "data": {"name": "days"},
            "mark": {"type": "rule", "color": "#4c4c4c", "strokeDash": [1, 2], "strokeWidth": 1},
            "encoding": {"x": {"field": "i", "type": "quantitative", "title": null, "axis": null, "scale": {"domain": [-1.54, 118.3], "nice": false, "zero": false}}}
          },
          {
            "data": {"name": "rsi"},
            "mark": {"type": "line", "strokeWidth": 1, "clip": true},
            "encoding": {
              "x": {"field": "i", "type": "quantitative", "title": null, "axis": null},
              "y": {"field": "v", "type": "quantitative", "title": null, "scale": {"domain": [0, 106.8], "nice": false, "zero": false},
                    "axis": {"orient": "right", "values": [20, 50, 80], "format": ".2f", "grid": true, "gridColor": "#9a1c1c", "gridDash": [1, 2], "labelColor": "#d0d0d0", "labelFontSize": 8, "labelPadding": 5}},
              "color": {"field": "s", "type": "nominal", "legend": null, "scale": {"domain": ["RSI5","RSI10","RSI20"], "range": ["#e8e030","#30c8e8","#22c022"]}}
            }
          }
        ]
      },
      {
        "width": 623, "height": 63,
        "layer": [
          {
            "data": {"name": "days"},
            "mark": {"type": "rule", "color": "#4c4c4c", "strokeDash": [1, 2], "strokeWidth": 1},
            "encoding": {"x": {"field": "i", "type": "quantitative", "title": null, "axis": null, "scale": {"domain": [-1.54, 118.3], "nice": false, "zero": false}}}
          },
          {
            "data": {"name": "kd"},
            "mark": {"type": "line", "strokeWidth": 1, "interpolate": "monotone", "clip": true},
            "encoding": {
              "x": {"field": "i", "type": "quantitative", "title": null, "axis": null},
              "y": {"field": "v", "type": "quantitative", "title": null, "scale": {"domain": [0, 108], "nice": false, "zero": false},
                    "axis": {"orient": "right", "values": [20, 50, 80], "format": ".2f", "grid": true, "gridColor": "#9a1c1c", "gridDash": [1, 2], "labelColor": "#d0d0d0", "labelFontSize": 8, "labelPadding": 5}},
              "color": {"field": "s", "type": "nominal", "legend": null, "scale": {"domain": ["K9","D9"], "range": ["#e8e030","#30c8d8"]}}
            }
          }
        ]
      },
      {
        "width": 623, "height": 65,
        "resolve": {"scale": {"color": "independent", "stroke": "independent"}},
        "layer": [
          {
            "data": {"name": "days"},
            "mark": {"type": "rule", "color": "#4c4c4c", "strokeDash": [1, 2], "strokeWidth": 1},
            "encoding": {"x": {"field": "i", "type": "quantitative", "title": null, "axis": null, "scale": {"domain": [-1.54, 118.3], "nice": false, "zero": false}}}
          },
          {
            "data": {"name": "candles"},
            "mark": {"type": "bar", "size": 3.8, "orient": "vertical"},
            "encoding": {
              "x": {"field": "i", "type": "quantitative", "title": null, "axis": null},
              "y": {"field": "v", "type": "quantitative", "title": null, "scale": {"domain": [0, 48334], "nice": false, "zero": true},
                    "axis": {"orient": "right", "values": [11526, 23052, 34579], "format": "d", "grid": true, "gridColor": "#4c4c4c", "gridDash": [1, 2], "labelColor": "#d0d0d0", "labelFontSize": 8, "labelPadding": 5}},
              "color": {"field": "vd", "type": "nominal", "legend": null, "scale": {"domain": ["u","d","f"], "range": ["#ff2020","#f2f2f2","#22c022"]}}
            }
          },
          {
            "data": {"name": "vavg"},
            "mark": {"type": "line", "strokeWidth": 1, "clip": true},
            "encoding": {
              "x": {"field": "i", "type": "quantitative", "title": null, "axis": null},
              "y": {"field": "v", "type": "quantitative", "title": null},
              "stroke": {"field": "s", "type": "nominal", "legend": null, "scale": {"domain": ["V5","V10"], "range": ["#30b8d8","#c8b830"]}}
            }
          }
        ]
      }
    ]
  }
]
}
